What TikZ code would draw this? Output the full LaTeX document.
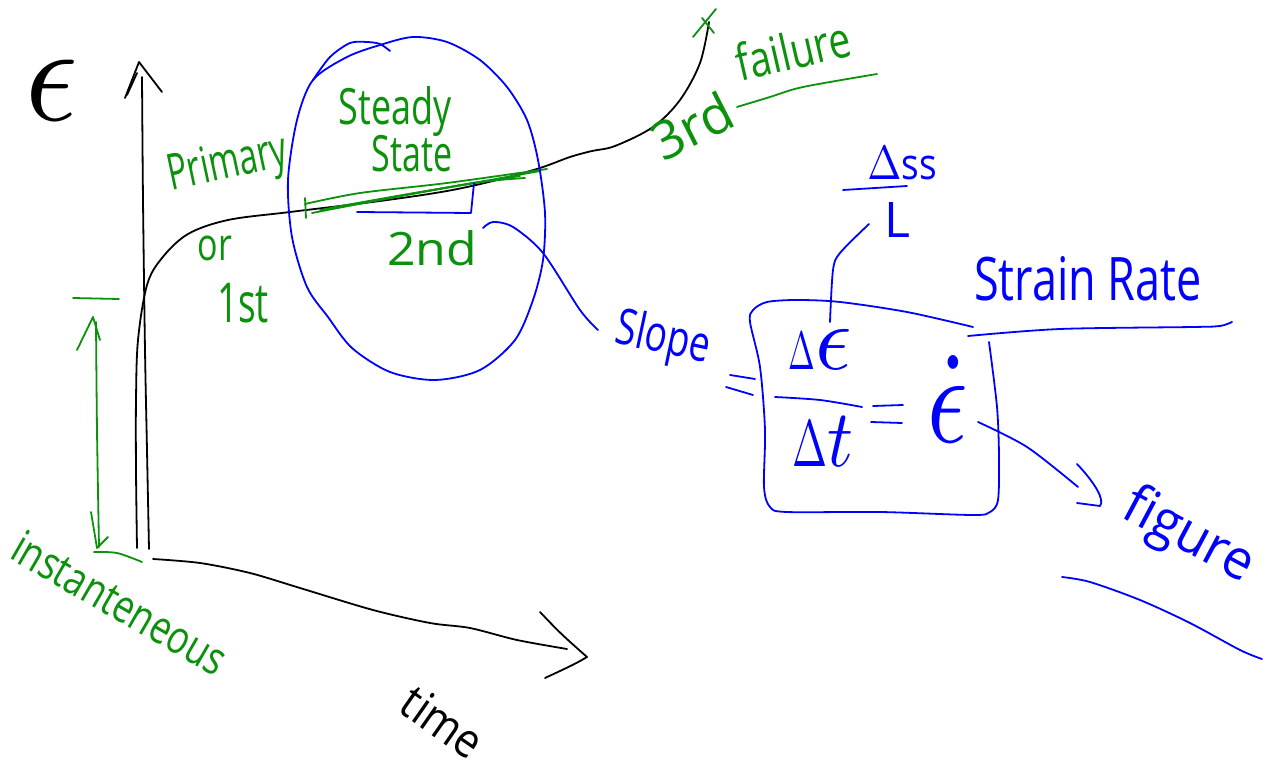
\documentclass[tikz,border=0pt]{standalone}
\usepackage{fontspec}
\setmainfont{Open Sans}
\usepackage{graphicx}
\definecolor{penG}{RGB}{12,145,12}
\definecolor{penB}{RGB}{0,0,255}
\begin{document}
\begin{tikzpicture}[x=1pt,y=-1pt,line cap=round,line join=round,
  stroke/.style={line width=1.8pt},
  blk/.style={stroke,draw=black},
  grn/.style={stroke,draw=penG},
  blu/.style={stroke,draw=penB},
  lbl/.style={inner sep=0pt,outer sep=0pt},
  gtext/.style={lbl,text=penG},
  btext/.style={lbl,text=penB},
  ktext/.style={lbl,text=black}]
\useasboundingbox (0,0) rectangle (1269,783);
\fill[white] (0,0) rectangle (1269,783);

% ---------- axes and creep curve (black) ----------
\node[ktext] (eps) at (52,90) {\scalebox{13}[14]{$\epsilon$}};
\draw[blk] plot[smooth] coordinates {(142,77) (143,200) (145,350) (147,450) (149,549)};
\draw[blk] (125,98) -- (139,62) -- (162,92);
\draw[blk] (127,95) -- (137,73);
\draw[blk] plot[smooth] coordinates {(153,559) (200,563) (250,573) (300,588) (373,610) (430,623) (470,628) (517,640) (567,649)};
\draw[blk] (540,612) .. controls (560,633) .. (587,657) .. controls (575,664) .. (545,678);
\node[ktext,rotate=-35] (time) at (443,722) {\scalebox{4.2}[4.8]{time}};
\draw[blk] plot[smooth,tension=0.55] coordinates {(137,548) (136,470) (136,400) (138,340) (147,285) (162,258) (188,234) (228,220) (290,212) (380,201) (447,191) (497,180) (540,168) (570,157) (592,151) (615,146) (653,127) (680,100) (700,63) (709,22)};

% ---------- stage labels (green) ----------
\draw[grn] (693,37) -- (716,9);
\draw[grn] (702,18) -- (714,33);
\node[gtext,rotate=12] (primary) at (228,166) {\scalebox{3.3}[5]{Primary}};
\node[gtext] (or) at (215,248) {\scalebox{3.4}[4.5]{or}};
\node[gtext] (first) at (243,303) {\scalebox{3.7}[5.5]{1st}};
\node[gtext] (steady) at (395,112) {\scalebox{3.6}[5]{Steady}};
\node[gtext] (state) at (412,154) {\scalebox{3.4}[5]{State}};
\node[gtext] (second) at (432,248) {\scalebox{5}[4.6]{2nd}};
\node[gtext,rotate=27] (third) at (692,126) {\scalebox{5.3}[5.3]{3rd}};
\node[gtext,rotate=13] (failure) at (793,50) {\scalebox{3.9}[5]{failure}};
\draw[grn] plot[smooth] coordinates {(737,107) (770,97) (803,87) (877,74)};
% steady-state segment, traced over several times
\draw[grn] (305,198) -- (306,218);
\draw[grn] plot[smooth] coordinates {(305,204) (360,193) (447,183) (547,169)};
\draw[grn] plot[smooth] coordinates {(312,213) (380,200) (473,183) (525,178)};
\draw[grn] plot[smooth] coordinates {(320,210) (400,196) (490,180) (540,171)};
\draw[grn] plot[smooth] coordinates {(330,208) (420,192) (520,176)};
% instantaneous strain marker
\draw[grn] (73,298) -- (119,299);
\draw[grn] (77,350) -- (93,317) -- (100,340);
\draw[grn] plot[smooth] coordinates {(96,322) (97,430) (99,547)};
\draw[grn] (91,512) -- (97,548) -- (108,537);
\draw[grn] plot[smooth] coordinates {(94,552) (117,553) (142,562)};
\node[gtext,rotate=-30] (inst) at (120,603) {\scalebox{3.6}[4.6]{instanteneous}};

% ---------- steady-state region and strain rate (blue) ----------
\draw[blu] plot[smooth cycle] coordinates {(313,80) (347,57) (380,45) (413,37) (447,42) (480,60) (507,87) (527,120) (538,160) (545,213) (543,260) (533,300) (515,340) (480,370) (435,380) (390,372) (352,348) (328,317) (307,287) (292,237) (288,180) (297,120)};
\draw[blu] plot[smooth] coordinates {(313,80) (330,57) (350,43) (367,42) (380,44) (390,51)};
\draw[blu] (357,212) -- (471,213) -- (474,183);

\node[btext,rotate=-12] (slope) at (663,340) {\scalebox{3.7}[5]{Slope}};
\coordinate (c2a) at (483,228);
\coordinate (c2b) at (598,330);
\draw[blu] plot[smooth] coordinates {(c2a) (493,222) (513,227) (543,253) (580,310) (c2b)};
\draw[blu] (730,375) -- (755,379);
\draw[blu] (726,387) -- (753,395);

% boxed definition of the strain rate
\draw[blu] plot[smooth,tension=0.5] coordinates {(973,327) (907,312) (840,302) (797,300) (767,302) (753,310) (750,322) (760,367) (765,430) (764,487) (770,507) (787,512) (880,512) (973,515) (990,512) (998,500) (999,457) (997,407) (989,342)};
\node[btext] (deps) at (820,349) {\scalebox{3.2}[5.4]{$\Delta$}\scalebox{9}[9.3]{$\epsilon$}};
\draw[blu] plot[smooth] coordinates {(775,397) (820,400) (862,407)};
\node[btext] (dt) at (823,442) {\scalebox{4.2}[6.6]{$\Delta$}\scalebox{7.2}[8.1]{$t$}};
\draw[blu] (873,406) -- (903,405);
\draw[blu] (871,422) -- (902,423);
\node[btext] (epsdot) at (948,399) {\scalebox{10}[13]{$\dot\epsilon$}};

\node[btext] (dss) at (902,163) {\scalebox{4.1}[4.8]{$\Delta$}\scalebox{3.7}[4.3]{ss}};
\draw[blu] (843,190) -- (907,186);
\node[btext] (len) at (897,220) {\scalebox{5}[4.9]{L}};
\coordinate (cLa) at (830,322);
\coordinate (cLb) at (869,224);
\draw[blu] plot[smooth] coordinates {(cLa) (833,270) (840,253) (cLb)};

\node[btext] (rate) at (1088,279) {\scalebox{4.5}[6]{Strain Rate}};
\draw[blu] plot[smooth] coordinates {(968,336) (1060,329) (1193,327) (1220,326) (1232,322)};

\coordinate (fa) at (978,422);
\coordinate (fb) at (1078,487);
\draw[blu] plot[smooth] coordinates {(fa) (1027,447) (fb)};
\draw[blu] (1077,464) .. controls (1095,483) and (1105,500) .. (1100,506) -- (1077,503);
\node[btext,rotate=-28] (figure) at (1188,537) {\scalebox{5.2}[5.5]{figure}};
\draw[blu] plot[smooth] coordinates {(1062,577) (1090,582) (1140,600) (1190,623) (1240,650) (1262,659)};
\end{tikzpicture}
\end{document}
